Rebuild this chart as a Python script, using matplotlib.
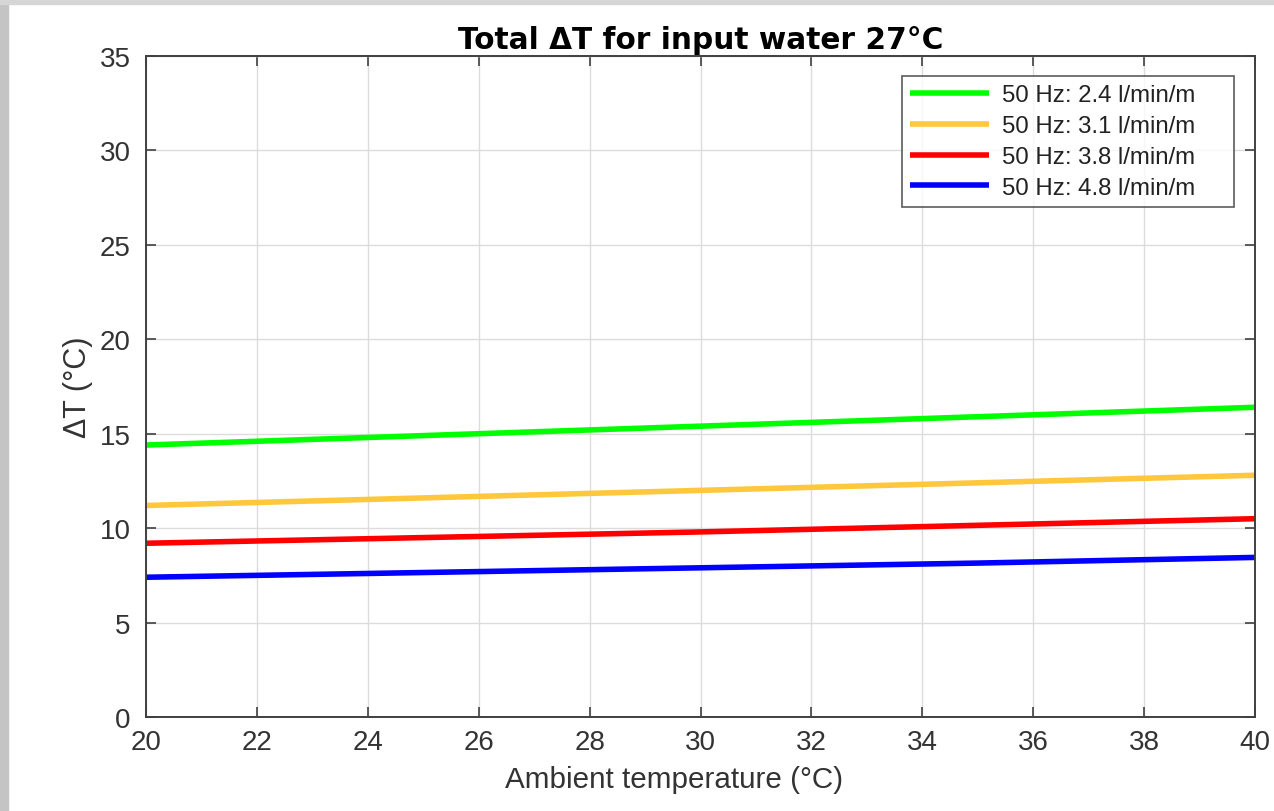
import matplotlib
matplotlib.use("Agg")
import matplotlib.pyplot as plt
from matplotlib.patches import Rectangle

ambient = [20, 25, 30, 35, 40]
dt_24 = [14.4, 14.9, 15.4, 15.9, 16.4]
dt_31 = [11.2, 11.6, 12.0, 12.4, 12.8]
dt_38 = [9.2, 9.5, 9.8, 10.15, 10.5]
dt_48 = [7.4, 7.65, 7.9, 8.15, 8.45]
labels = ["50 Hz: 2.4 l/min/m", "50 Hz: 3.1 l/min/m", "50 Hz: 3.8 l/min/m", "50 Hz: 4.8 l/min/m"]
colors = ["#00ff00", "#ffc83c", "#ff0000", "#0000ff"]
xticks = list(range(20, 41, 2))
yticks = list(range(0, 36, 5))

fam = ["Liberation Sans", "DejaVu Sans"]
plt.rcParams['font.family'] = fam

fig = plt.figure(figsize=(12.74, 8.12), dpi=100)
fig.patch.set_facecolor("white")
fig.patches.append(Rectangle((0, 0), 8/1274, 1, transform=fig.transFigure, color="#c4c4c4", zorder=0))
fig.patches.append(Rectangle((0, 1-5/812), 1, 5/812, transform=fig.transFigure, color="#d6d6d6", zorder=0))

ax = fig.add_axes([146/1274, 1-718/812, (1255-146)/1274, (718-57)/812])
for y, lab, c in zip([dt_24, dt_31, dt_38, dt_48], labels, colors):
    ax.plot(ambient, y, color=c, lw=4.0, label=lab, solid_capstyle='butt')

ax.set_xlim(20, 40)
ax.set_ylim(0, 35)
ax.set_xticks(xticks)
ax.set_yticks(yticks)
ax.grid(True, color="#dcdcdc", lw=1.0)
ax.set_axisbelow(True)
ax.tick_params(axis='both', direction='in', length=7, width=1.2, color="#404040",
               labelsize=20, labelcolor="#333333", top=True, right=True)
ax.tick_params(axis='x', pad=9)
ax.tick_params(axis='y', pad=11)
for s in ax.spines.values():
    s.set_color("#404040")
    s.set_linewidth(1.4)

ax.set_title("Total ΔT for input water 27°C", fontsize=21.3, fontweight='bold',
             family=["DejaVu Sans"], pad=6)
ax.set_xlabel("Ambient temperature (°C)", fontsize=21.3, color="#333333", labelpad=7)
ax.xaxis.set_label_coords((674.5 - 146) / 1109, -0.073)
ax.set_ylabel("ΔT (°C)", fontsize=22, color="#333333", labelpad=5)

x0 = (902 - 146) / 1109
w = (1234 - 902) / 1109
ytop = (718 - 77) / 661
leg = ax.legend(loc='upper left', bbox_to_anchor=(x0, ytop - 0.3, w, 0.3), mode='expand',
                fontsize=17.3, frameon=True, fancybox=False,
                edgecolor="#333333", handlelength=3.3, borderaxespad=0.0,
                labelspacing=0.37, handletextpad=0.54, borderpad=0.34)
leg.get_frame().set_linewidth(1.2)
for t in leg.get_texts():
    t.set_color("#222222")

fig.savefig("out.png", dpi=100)
